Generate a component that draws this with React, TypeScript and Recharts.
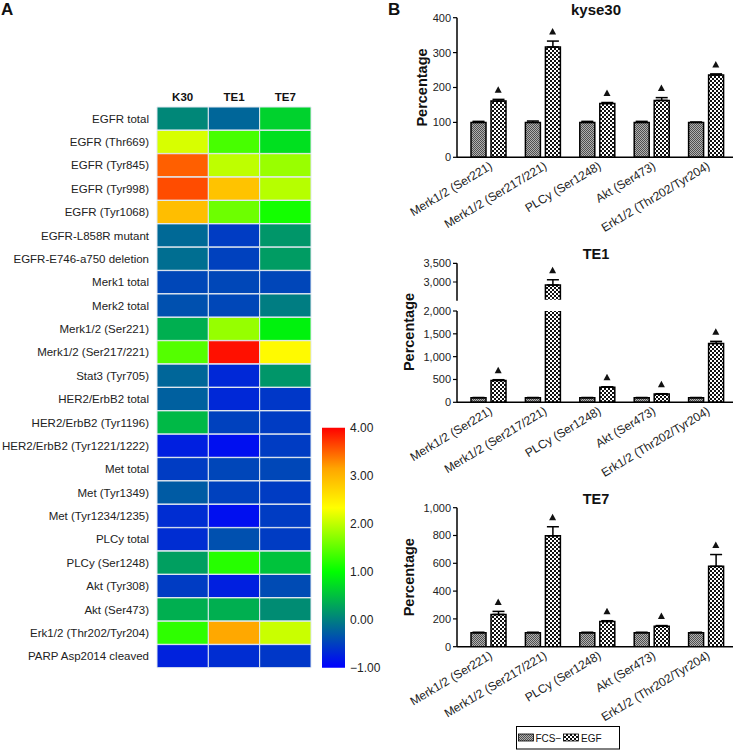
import React from "react";
import { BarChart, Bar, XAxis, YAxis, Cell, ComposedChart, ErrorBar, Scatter } from "recharts";

// ---- panel A: heatmap ----
const rowLabels = [
  "EGFR total", "EGFR (Thr669)", "EGFR (Tyr845)", "EGFR (Tyr998)", "EGFR (Tyr1068)",
  "EGFR-L858R mutant", "EGFR-E746-a750 deletion", "Merk1 total", "Merk2 total",
  "Merk1/2 (Ser221)", "Merk1/2 (Ser217/221)", "Stat3 (Tyr705)", "HER2/ErbB2 total",
  "HER2/ErbB2 (Tyr1196)", "HER2/ErbB2 (Tyr1221/1222)", "Met total", "Met (Tyr1349)",
  "Met (Tyr1234/1235)", "PLCy total", "PLCy (Ser1248)", "Akt (Tyr308)", "Akt (Ser473)",
  "Erk1/2 (Thr202/Tyr204)", "PARP Asp2014 cleaved",
];
const cellLines = ["K30", "TE1", "TE7"];
const k30Values = [0.06, 2.12, 3.51, 3.61, 2.92, -0.18, -0.14, -0.44, -0.37, 0.37, 1.44, -0.2, -0.25, 0.45, -0.76, -0.53, -0.29, -0.65, -0.65, 0.25, -0.53, 0.37, 1.24, -0.73];
const te1Values = [-0.2, 1.37, 1.99, 2.88, 1.57, -0.53, -0.49, -0.44, -0.44, 1.78, 3.92, -0.69, -0.69, -0.49, -0.88, -0.45, -0.49, -0.88, -0.37, 1.2, -0.76, 0.37, 3.12, -0.65];
const te7Values = [0.65, 0.76, 1.8, 1.95, 1.1, 0.18, 0.22, -0.45, -0.02, 0.9, 2.38, 0.18, -0.57, -0.53, -0.53, -0.44, -0.53, -0.53, -0.53, 0.53, -0.41, 0.1, 2.05, -0.57];
const scaleTicks = [-1, 0, 1, 2, 3, 4];

// ---- panel B: bar charts ----
const sites = ["Merk1/2 (Ser221)", "Merk1/2 (Ser217/221)", "PLCy (Ser1248)", "Akt (Ser473)", "Erk1/2 (Thr202/Tyr204)"];
const seriesNames = ["FCS\u2212", "EGF"];

const kyseFcs = [100, 100, 100, 100, 100];
const kyseFcsErr = [3, 4, 3, 3, 1];
const kyseEgf = [161, 316, 154, 163, 236];
const kyseEgfErr = [5, 17, 3, 8, 3];
const kyseTicks = [0, 100, 200, 300, 400];

const te1Fcs = [100, 100, 100, 100, 100];
const te1FcsErr = [5, 5, 5, 5, 5];
const te1Egf = [480, 2920, 330, 180, 1290];
const te1EgfErr = [15, 140, 10, 8, 45];
const te1LowTicks = [0, 500, 1000, 1500, 2000];
const te1HighTicks = [2500, 3000, 3500];

const te7Fcs = [100, 100, 100, 100, 100];
const te7FcsErr = [4, 4, 4, 4, 4];
const te7Egf = [232, 798, 182, 147, 578];
const te7EgfErr = [22, 65, 5, 5, 85];
const te7Ticks = [0, 200, 400, 600, 800, 1000];

// colour scale of the heatmap
const colorStops: [number, number[]][] = [
  [-1, [0, 0, 255]],
  [1, [0, 255, 0]],
  [2.33, [255, 255, 0]],
  [3.15, [255, 165, 0]],
  [4, [255, 0, 0]],
];

function heatColor(v: number) {
  for (let i = 0; i < colorStops.length - 1; i++) {
    const [a, ca] = colorStops[i];
    const [b, cb] = colorStops[i + 1];
    if (v <= b || i === colorStops.length - 2) {
      const t = Math.max(0, Math.min(1, (v - a) / (b - a)));
      const c = ca.map((x, k) => Math.round(x + (cb[k] - x) * t));
      return `rgb(${c[0]},${c[1]},${c[2]})`;
    }
  }
  return "#000";
}

const heatValues = [k30Values, te1Values, te7Values];
const heatRows = rowLabels.map((name) => ({ name, K30: 1, TE1: 1, TE7: 1 }));
const scaleRows = [{ name: "scale", range: [scaleTicks[0], scaleTicks[scaleTicks.length - 1]] }];

const makeRows = (fcs: number[], fcsErr: number[], egf: number[], egfErr: number[]) =>
  sites.map((site, i) => ({
    site,
    fcs: fcs[i],
    fcsErr: [0, fcsErr[i]],
    egf: egf[i],
    egfErr: [0, egfErr[i]],
    mark: egf[i] + egfErr[i],
  }));

const kyseRows = makeRows(kyseFcs, kyseFcsErr, kyseEgf, kyseEgfErr);
const te1Rows = makeRows(te1Fcs, te1FcsErr, te1Egf, te1EgfErr);
const te7Rows = makeRows(te7Fcs, te7FcsErr, te7Egf, te7EgfErr);

const fmt = (v: number) => v.toLocaleString("en-US");
const fmtScale = (v: number) => (v < 0 ? "\u2212" : "") + Math.abs(v).toFixed(2);

const RowTick = (props: any) => {
  const { x, y, payload } = props;
  return (
    <text x={x} y={y} dy={4} textAnchor="end" fontSize={11.5} fill="#222">
      {payload.value}
    </text>
  );
};

const SiteTick = (props: any) => {
  const { x, y, payload } = props;
  const ax = x + 5;
  const ay = y + 9;
  return (
    <text x={ax} y={ay} textAnchor="end" fontSize={12} fill="#222" transform={`rotate(-31, ${ax}, ${ay})`}>
      {payload.value}
    </text>
  );
};

const Mark = (props: any) => {
  const { cx, cy } = props;
  if (cx == null || cy == null) return <g />;
  const x = cx + 10;
  return <path d={`M${x},${cy - 13} L${x + 3.5},${cy - 6.5} L${x - 3.5},${cy - 6.5} Z`} fill="#111" />;
};

const axisStyle = { stroke: "#000", strokeWidth: 1.5 };

function SitePanel(props: {
  rows: any[];
  top: number;
  height: number;
  marginTop: number;
  marginBottom: number;
  domain: number[];
  ticks: number[];
  showX: boolean;
  yLabelOffset?: number;
  clip?: string;
}) {
  const { rows, top, height, marginTop, marginBottom, domain, ticks, showX, yLabelOffset, clip } = props;
  return (
    <div style={{ position: "absolute", left: 370, top, clipPath: clip }}>
      <ComposedChart
        width={363}
        height={height}
        data={rows}
        margin={{ top: marginTop, right: 0, bottom: marginBottom, left: 0 }}
        barSize={15}
        barGap={5}
      >
        <XAxis
          dataKey="site"
          type="category"
          hide={!showX}
          height={85}
          padding={{ left: 4, right: 0 }}
          interval={0}
          tick={<SiteTick />}
          tickLine={false}
          tickSize={0}
          axisLine={axisStyle}
        />
        <YAxis
          type="number"
          domain={domain}
          ticks={ticks}
          allowDataOverflow
          width={87}
          tickSize={4}
          tickMargin={2}
          tickFormatter={fmt}
          axisLine={axisStyle}
          tickLine={{ stroke: "#000", strokeWidth: 1.2 }}
          tick={{ fontSize: 11, fill: "#222" }}
          label={
            yLabelOffset != null
              ? {
                  value: "Percentage",
                  angle: -90,
                  position: "insideLeft",
                  offset: yLabelOffset,
                  style: { textAnchor: "middle", fontWeight: 700, fontSize: 14.5, fill: "#111" },
                }
              : undefined
          }
        />
        <Bar dataKey="fcs" name={seriesNames[0]} fill="url(#fcsFill)" stroke="#000" strokeWidth={1.5} isAnimationActive={false}>
          <ErrorBar dataKey="fcsErr" direction="y" width={6} stroke="#000" strokeWidth={1.5} />
        </Bar>
        <Bar dataKey="egf" name={seriesNames[1]} fill="url(#egfFill)" stroke="#000" strokeWidth={1.5} isAnimationActive={false}>
          <ErrorBar dataKey="egfErr" direction="y" width={6} stroke="#000" strokeWidth={1.5} />
        </Bar>
        <Scatter dataKey="mark" shape={<Mark />} isAnimationActive={false} />
      </ComposedChart>
    </div>
  );
}

export default function App() {
  return (
    <div
      style={{
        position: "absolute",
        left: 0,
        top: 0,
        width: 733,
        height: 751,
        background: "#fff",
        fontFamily: "Arial, 'Liberation Sans', sans-serif",
        overflow: "hidden",
      }}
    >
      <svg width={0} height={0} style={{ position: "absolute" }}>
        <defs>
          <pattern id="fcsFill" width="2" height="2" patternUnits="userSpaceOnUse">
            <rect width="2" height="2" fill="#b0b0b0" />
            <rect width="1" height="1" fill="#505050" />
            <rect x="1" y="1" width="1" height="1" fill="#505050" />
          </pattern>
          <pattern id="egfFill" width="4" height="4" patternUnits="userSpaceOnUse">
            <rect width="4" height="4" fill="#fff" />
            <rect width="2" height="2" fill="#111" />
            <rect x="2" y="2" width="2" height="2" fill="#111" />
          </pattern>
          <linearGradient id="heatGrad" x1="0" y1="0" x2="0" y2="1">
            {[...colorStops].reverse().map(([v, c]) => (
              <stop key={v} offset={(4 - v) / 5} stopColor={`rgb(${c[0]},${c[1]},${c[2]})`} />
            ))}
          </linearGradient>
        </defs>
      </svg>

      {/* heatmap */}
      <div style={{ position: "absolute", left: 0, top: 0 }}>
        <BarChart
          width={330}
          height={680}
          data={heatRows}
          layout="vertical"
          margin={{ top: 87, right: 19, bottom: 12, left: 0 }}
          barCategoryGap={0}
        >
          <XAxis
            type="number"
            orientation="top"
            domain={[0, 3]}
            ticks={[0.5, 1.5, 2.5]}
            tickFormatter={(v: number) => cellLines[Math.floor(v)]}
            axisLine={false}
            tickLine={false}
            tickSize={0}
            tickMargin={6}
            height={20}
            tick={{ fontSize: 11.5, fontWeight: 700, fill: "#111" }}
          />
          <YAxis
            type="category"
            dataKey="name"
            width={157}
            axisLine={false}
            tickLine={false}
            interval={0}
            tick={<RowTick />}
          />
          {cellLines.map((c, j) => (
            <Bar key={c} dataKey={c} stackId="h" stroke="#dfe7ef" strokeWidth={1} isAnimationActive={false}>
              {heatValues[j].map((v, i) => (
                <Cell key={i} fill={heatColor(v)} />
              ))}
            </Bar>
          ))}
        </BarChart>
      </div>

      {/* colour bar */}
      <div style={{ position: "absolute", left: 322, top: 420 }}>
        <BarChart width={63} height={260} data={scaleRows} margin={{ top: 7.7, right: 0, bottom: 12.3, left: 0 }} barCategoryGap={0}>
          <XAxis dataKey="name" hide />
          <YAxis
            orientation="right"
            type="number"
            domain={[scaleTicks[0], scaleTicks[scaleTicks.length - 1]]}
            ticks={scaleTicks}
            tickFormatter={fmtScale}
            axisLine={false}
            tickLine={false}
            tickSize={0}
            tickMargin={5}
            width={40}
            tick={{ fontSize: 12, fill: "#222" }}
          />
          <Bar dataKey="range" fill="url(#heatGrad)" isAnimationActive={false} />
        </BarChart>
      </div>

      {/* kyse30 */}
      <SitePanel rows={kyseRows} top={0} height={250} marginTop={17.7} marginBottom={7.7} domain={[0, 400]} ticks={kyseTicks} showX yLabelOffset={52} />

      {/* TE1, broken axis */}
      <SitePanel
        rows={te1Rows}
        top={255}
        height={48}
        marginTop={8.3}
        marginBottom={2.3}
        domain={[2500, 3500]}
        ticks={te1HighTicks}
        showX={false}
        clip="polygon(0px 0px, 363px 0px, 363px 44.8px, 88px 44.8px, 88px 48px, 0px 48px)"
      />
      <SitePanel rows={te1Rows} top={290} height={203} marginTop={21} marginBottom={5.7} domain={[0, 2000]} ticks={te1LowTicks} showX />

      {/* TE7 */}
      <SitePanel rows={te7Rows} top={490} height={250} marginTop={17.7} marginBottom={8.3} domain={[0, 1000]} ticks={te7Ticks} showX yLabelOffset={39.3} />

      {/* labels, titles and legend */}
      <svg width={733} height={751} style={{ position: "absolute", left: 0, top: 0, pointerEvents: "none" }}>
        <text x={1} y={15} fontSize={17} fontWeight={700} fill="#111">A</text>
        <text x={388} y={15} fontSize={17} fontWeight={700} fill="#111">B</text>
        <text x={596} y={15} fontSize={15} fontWeight={700} textAnchor="middle" fill="#111">kyse30</text>
        <text x={596} y={258.5} fontSize={14.5} fontWeight={700} textAnchor="middle" fill="#111">TE1</text>
        <text x={596} y={503.5} fontSize={14.5} fontWeight={700} textAnchor="middle" fill="#111">TE7</text>
        <text
          x={409.3}
          y={332}
          fontSize={14.5}
          fontWeight={700}
          textAnchor="middle"
          dominantBaseline="central"
          transform="rotate(-90, 409.3, 332)"
          fill="#111"
        >
          Percentage
        </text>
        <rect x={516.5} y={726.5} width={103} height={22.5} fill="#fff" stroke="#000" strokeWidth={1} />
        <rect x={518.5} y={734} width={15} height={7} fill="url(#fcsFill)" stroke="#000" strokeWidth={0.8} />
        <text x={535.5} y={742} fontSize={10} fill="#111">{seriesNames[0]}</text>
        <rect x={563.5} y={734} width={15} height={7} fill="url(#egfFill)" stroke="#000" strokeWidth={0.8} />
        <text x={581} y={742} fontSize={10} fill="#111">{seriesNames[1]}</text>
      </svg>
    </div>
  );
}
